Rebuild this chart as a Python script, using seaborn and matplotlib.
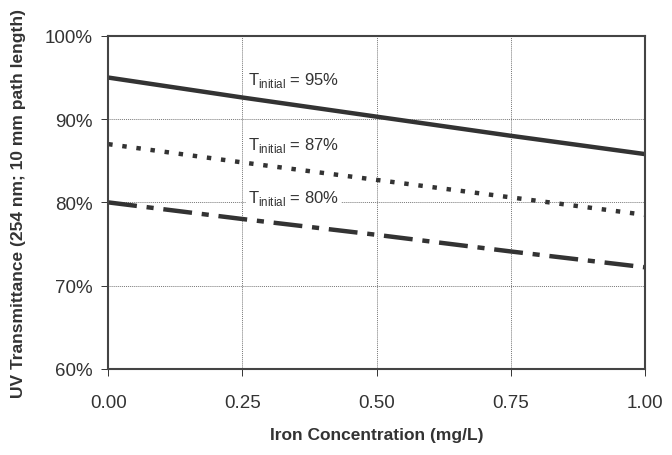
import numpy as np
import pandas as pd
import seaborn as sns
import matplotlib.pyplot as plt
from matplotlib.ticker import PercentFormatter

# values
iron = [0.0, 0.25, 0.50, 0.75, 1.00]
t95 = [95.0, 92.6, 90.3, 88.0, 85.8]
t87 = [87.0, 84.8, 82.7, 80.6, 78.5]
t80 = [80.0, 78.0, 76.1, 74.1, 72.2]
labels = ["95%", "87%", "80%"]
label_y = [94.8, 87.0, 80.6]

df = pd.DataFrame({"iron": iron * 3,
                   "T": t95 + t87 + t80,
                   "series": [labels[0]] * 5 + [labels[1]] * 5 + [labels[2]] * 5})

sns.set_style("white")
plt.rcParams['font.family'] = ['Liberation Sans', 'DejaVu Sans']

fig = plt.figure(figsize=(6.72, 4.56), dpi=100)
ax = fig.add_axes([0.161, 0.189, 0.799, 0.730])

styles = {"95%": "-", "87%": (0, (1.0, 2.2)), "80%": (0, (6.5, 2.2, 1.6, 2.2))}
for s in labels:
    sns.lineplot(data=df[df.series == s], x="iron", y="T", ax=ax,
                 color="#333333", lw=3.2, linestyle=styles[s], legend=False)

for s, y in zip(labels, label_y):
    ax.text(0.26, y, r"T$_{\mathregular{initial}}$ = " + s, fontsize=12, va="center",
            ha="left", color="#333333",
            bbox=dict(facecolor="white", edgecolor="none", pad=1.5))

ax.set_xlim(0, 1)
ax.set_ylim(60, 100)
ax.set_xticks([0, 0.25, 0.5, 0.75, 1.0])
ax.set_yticks([60, 70, 80, 90, 100])
ax.yaxis.set_major_formatter(PercentFormatter(decimals=0))
ax.xaxis.set_major_formatter(plt.FormatStrFormatter("%.2f"))
ax.grid(True, color="#777777", linestyle=(0, (1, 1)), lw=0.7)
ax.tick_params(axis="both", labelsize=13.5, colors="#333333", length=5, width=0.7,
               direction="out", left=True, bottom=True)
ax.tick_params(axis="x", pad=13)
ax.tick_params(axis="y", pad=6)
for sp in ax.spines.values():
    sp.set_color("#444444")
    sp.set_linewidth(1.5)

ax.set_xlabel("Iron Concentration (mg/L)", fontsize=12.5, fontweight="bold", color="#333333")
ax.set_ylabel("UV Transmittance (254 nm; 10 mm path length)", fontsize=12.5, fontweight="bold",
              color="#333333")
ax.xaxis.set_label_coords(0.5, -0.174)
ax.yaxis.set_label_coords(-0.153, 0.5)

fig.savefig("out.png", dpi=100)
